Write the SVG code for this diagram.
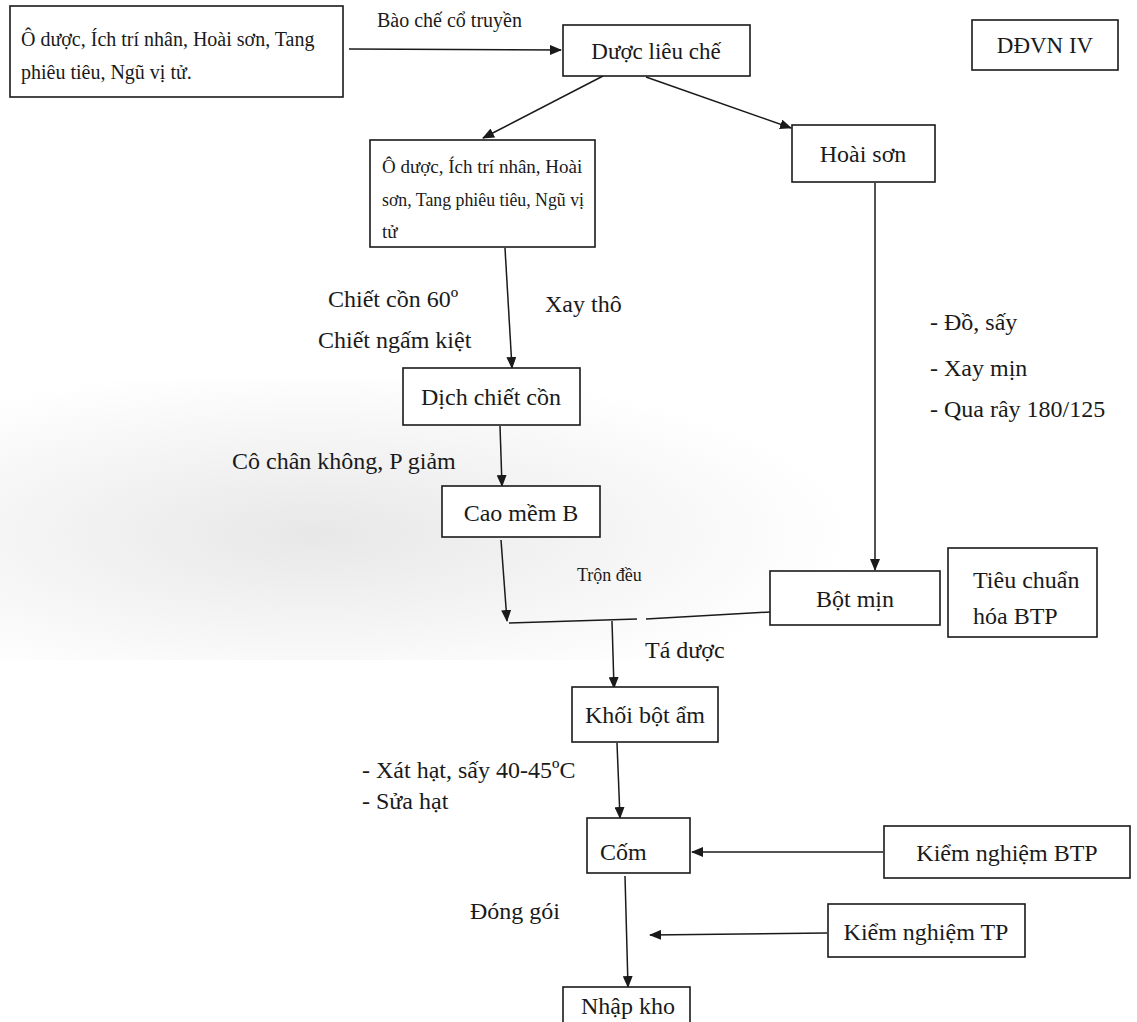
<svg xmlns="http://www.w3.org/2000/svg" width="1137" height="1022" viewBox="0 0 1137 1022">
<style>
.box{fill:#fff;stroke:#1a1a1a;stroke-width:1.6}
.t{font-family:"Liberation Serif","Times New Roman",serif;fill:#1a1a1a}
.m{font-size:24px}
.c{text-anchor:middle}
.ln{stroke:#1a1a1a;stroke-width:1.5;fill:none;marker-end:url(#ah)}
.pl{stroke:#1a1a1a;stroke-width:1.5;fill:none}
</style>
<defs>
<marker id="ah" markerWidth="12" markerHeight="10" refX="11" refY="5" orient="auto" markerUnits="userSpaceOnUse">
<path d="M0,0 L12,5 L0,10 Z" fill="#1a1a1a"/>
</marker>
<radialGradient id="shade" cx="0.35" cy="0.55" r="0.6">
<stop offset="0" stop-color="#d8d8d8"/>
<stop offset="1" stop-color="#ffffff"/>
</radialGradient>
</defs>
<rect width="1137" height="1022" fill="#fff"/>
<rect x="0" y="380" width="900" height="280" fill="url(#shade)" opacity="0.6"/>

<g id="connectors">
<line class="ln" x1="349" y1="49" x2="561" y2="50"/>
<line class="ln" x1="603" y1="76" x2="483" y2="138"/>
<line class="ln" x1="646" y1="77" x2="791" y2="128"/>
<line class="ln" x1="875" y1="183" x2="875" y2="570"/>
<line class="ln" x1="505" y1="248" x2="512" y2="368"/>
<line class="ln" x1="500" y1="426" x2="502" y2="486"/>
<line class="ln" x1="501" y1="540" x2="507" y2="621"/>
<line class="pl" x1="509" y1="623" x2="637" y2="619"/>
<line class="pl" x1="646" y1="619" x2="770" y2="612"/>
<line class="ln" x1="612" y1="621" x2="614" y2="688"/>
<line class="ln" x1="617" y1="743" x2="620" y2="818"/>
<line class="ln" x1="883" y1="852" x2="692" y2="852"/>
<line class="ln" x1="625" y1="876" x2="628" y2="987"/>
<line class="ln" x1="827" y1="933" x2="650" y2="935"/>
</g>

<g id="n-nguyenlieu">
<rect class="box" x="10" y="6" width="333" height="91"/>
<text class="t" x="21" y="46" font-size="20">Ô dược, Ích trí nhân, Hoài sơn, Tang</text>
<text class="t" x="21" y="79" font-size="20">phiêu tiêu, Ngũ vị tử.</text>
</g>
<text class="t" x="377" y="27" font-size="20">Bào chế cổ truyền</text>

<g id="n-duoclieuche">
<rect class="box" x="563" y="25" width="187" height="51"/>
<text class="t c" x="656" y="59" font-size="23">Dược liêu chế</text>
</g>

<g id="n-ddvn">
<rect class="box" x="972" y="20" width="146" height="50"/>
<text class="t c" x="1045" y="53" font-size="23">DĐVN IV</text>
</g>

<g id="n-hon-hop">
<rect class="box" x="370" y="140" width="225" height="107"/>
<text class="t" x="382" y="173" font-size="19">Ô dược, Ích trí nhân, Hoài</text>
<text class="t" x="382" y="206" font-size="19" textLength="202" lengthAdjust="spacingAndGlyphs">sơn, Tang phiêu tiêu, Ngũ vị</text>
<text class="t" x="382" y="238" font-size="19">tử</text>
</g>

<g id="n-hoaison">
<rect class="box" x="792" y="125" width="143" height="57"/>
<text class="t m c" x="863" y="162">Hoài sơn</text>
</g>

<text class="t m" x="328" y="307">Chiết cồn 60º</text>
<text class="t m" x="318" y="348">Chiết ngấm kiệt</text>
<text class="t m" x="545" y="312">Xay thô</text>

<text class="t m" x="930" y="330">- Đồ, sấy</text>
<text class="t m" x="930" y="376">- Xay mịn</text>
<text class="t m" x="930" y="417">- Qua rây 180/125</text>

<g id="n-dichchiet">
<rect class="box" x="403" y="368" width="177" height="57"/>
<text class="t m c" x="491" y="405">Dịch chiết cồn</text>
</g>

<text class="t m" x="232" y="469">Cô chân không, P giảm</text>

<g id="n-caomem">
<rect class="box" x="442" y="486" width="158" height="51"/>
<text class="t m c" x="521" y="521">Cao mềm B</text>
</g>

<text class="t" x="577" y="581" font-size="18">Trộn đều</text>

<g id="n-botmin">
<rect class="box" x="770" y="571" width="170" height="54"/>
<text class="t m c" x="855" y="607">Bột mịn</text>
</g>

<g id="n-tieuchuan">
<rect class="box" x="948" y="548" width="149" height="89"/>
<text class="t m" x="973" y="588">Tiêu chuẩn</text>
<text class="t m" x="973" y="624">hóa BTP</text>
</g>

<text class="t m" x="645" y="658">Tá dược</text>

<g id="n-khoibotam">
<rect class="box" x="572" y="687" width="146" height="55"/>
<text class="t m c" x="645" y="723">Khối bột ẩm</text>
</g>

<text class="t m" x="362" y="778">- Xát hạt, sấy 40-45ºC</text>
<text class="t m" x="362" y="809">- Sửa  hạt</text>

<g id="n-com">
<rect class="box" x="587" y="818" width="103" height="55"/>
<text class="t m" x="600" y="860">Cốm</text>
</g>

<g id="n-kn-btp">
<rect class="box" x="884" y="826" width="246" height="52"/>
<text class="t m c" x="1007" y="861">Kiểm nghiệm BTP</text>
</g>

<text class="t m" x="470" y="919">Đóng  gói</text>

<g id="n-kn-tp">
<rect class="box" x="828" y="904" width="197" height="53"/>
<text class="t m c" x="926" y="940">Kiểm nghiệm TP</text>
</g>

<g id="n-nhapkho">
<rect class="box" x="563" y="987" width="127" height="50"/>
<text class="t m" x="581" y="1014">Nhập kho</text>
</g>
</svg>
